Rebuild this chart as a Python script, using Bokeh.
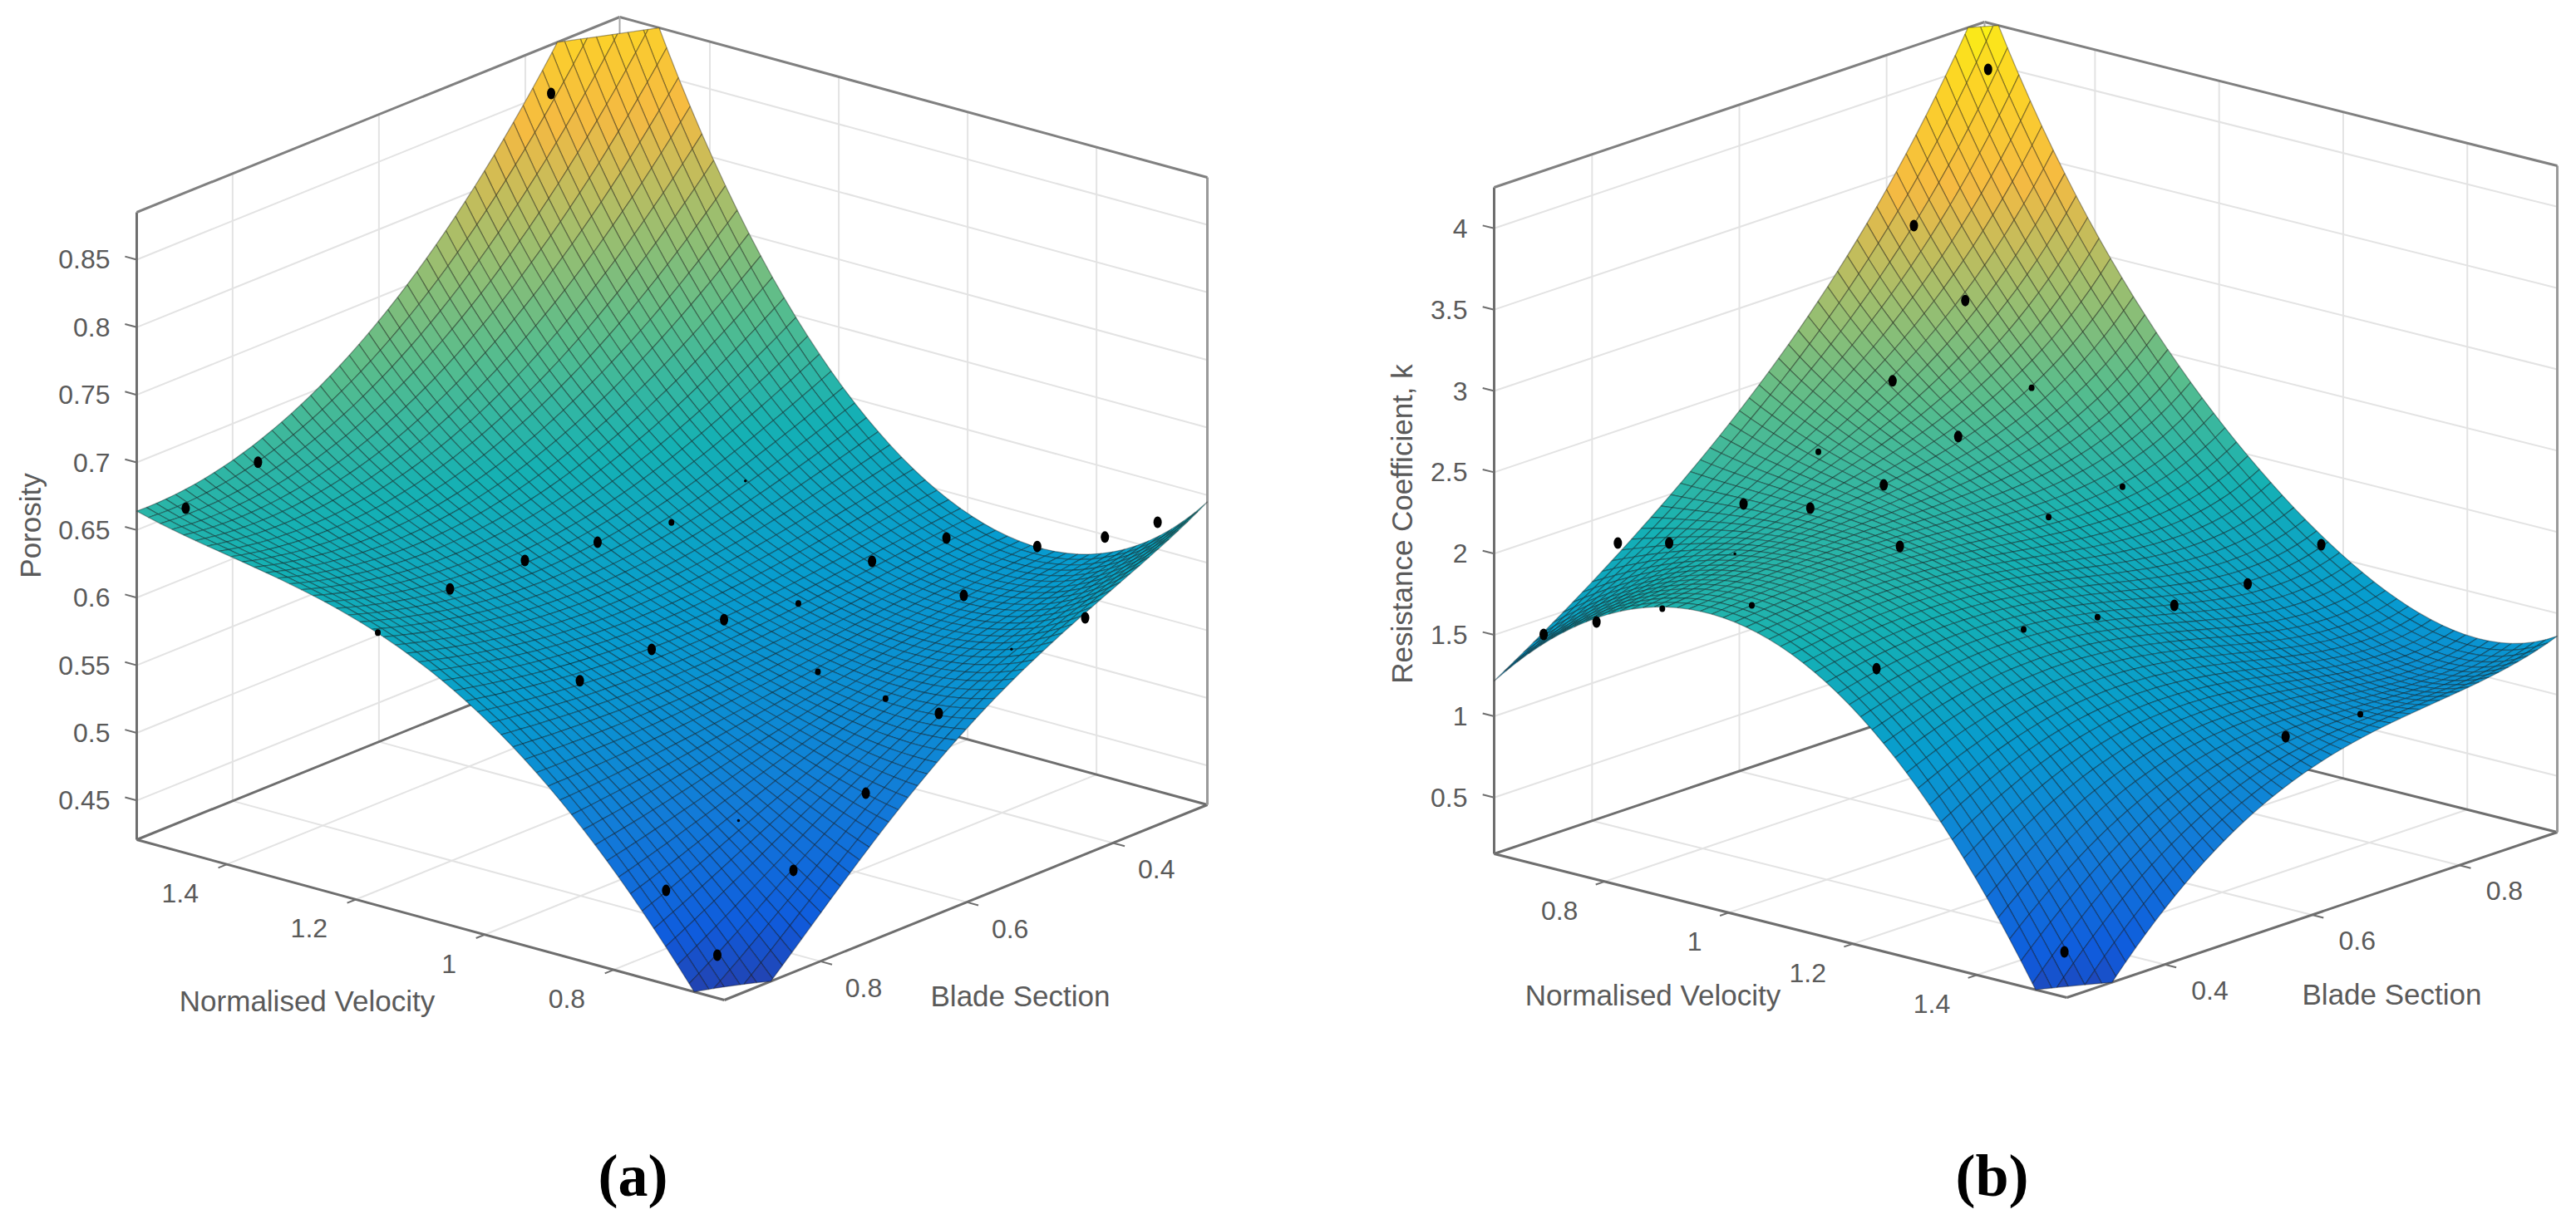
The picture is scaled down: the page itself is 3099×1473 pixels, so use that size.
import numpy as np
from bokeh.core.properties import value
from bokeh.embed import file_html
from bokeh.layouts import row
from bokeh.models import ColumnDataSource, Range1d
from bokeh.plotting import figure
from bokeh.resources import INLINE

# ---------- chart (a): porosity ----------
a_velocity_nodes = [0.628, 0.856, 1.084, 1.312, 1.540]
a_blade_nodes = [0.931, 0.766, 0.601, 0.436, 0.271]
a_height_nodes = [
    [0.390, 0.474, 0.549, 0.600, 0.645],
    [0.523, 0.536, 0.552, 0.567, 0.578],
    [0.605, 0.587, 0.583, 0.593, 0.610],
    [0.642, 0.625, 0.634, 0.670, 0.730],
    [0.664, 0.679, 0.732, 0.825, 0.960],
]
a_z_limits = (0.421, 0.885)
a_z_ticks = [0.45, 0.5, 0.55, 0.6, 0.65, 0.7, 0.75, 0.8, 0.85]
a_z_labels = ["0.45", "0.5", "0.55", "0.6", "0.65", "0.7", "0.75", "0.8", "0.85"]
a_velocity_ticks = [0.8, 1.0, 1.2, 1.4]
a_velocity_labels = ["0.8", "1", "1.2", "1.4"]
a_blade_ticks = [0.4, 0.6, 0.8]
a_blade_labels = ["0.4", "0.6", "0.8"]

a_full_v = [1.526, 1.521, 1.514, 1.234, 1.212, 1.231, 1.026, 1.027, 1.017, 1.003, 0.983, 0.892, 0.787, 0.628, 0.872, 0.628, 0.687, 0.68, 0.681, 0.756, 0.681]
a_full_b = [0.377, 0.782, 0.887, 0.67, 0.59, 0.775, 0.581, 0.679, 0.786, 0.399, 0.315, 0.271, 0.271, 0.339, 0.389, 0.438, 0.586, 0.692, 0.79, 0.898, 0.894]
a_full_z = [0.8535, 0.67, 0.6599, 0.6102, 0.609, 0.6125, 0.574, 0.5733, 0.5748, 0.5803, 0.5817, 0.5777, 0.5983, 0.6448, 0.5699, 0.5958, 0.5499, 0.5149, 0.4792, 0.4782, 0.4392]
a_part_v = [1.167, 1.186, 0.997, 0.877, 0.772]
a_part_b = [0.93, 0.512, 0.505, 0.584, 0.584]
a_part_z = [0.6224, 0.61, 0.5731, 0.5554, 0.5493]
a_sliver_v = [1.178, 0.764, 0.681]
a_sliver_b = [0.418, 0.792, 0.492]
a_sliver_z = [0.6212, 0.5056, 0.5775]

# ---------- chart (b): resistance coefficient ----------
b_velocity_nodes = [1.545, 1.314, 1.084, 0.853, 0.622]
b_blade_nodes = [0.267, 0.433, 0.600, 0.767, 0.933]
b_height_nodes = [
    [-0.200, 0.630, 1.060, 1.205, 1.360],
    [1.170, 1.448, 1.457, 1.297, 1.300],
    [1.870, 1.929, 1.848, 1.727, 1.860],
    [1.885, 1.996, 2.097, 2.285, 2.840],
    [1.217, 1.733, 2.370, 3.220, 4.450],
]
b_z_limits = (0.154, 4.252)
b_z_ticks = [0.5, 1.0, 1.5, 2.0, 2.5, 3.0, 3.5, 4.0]
b_z_labels = ["0.5", "1", "1.5", "2", "2.5", "3", "3.5", "4"]
b_velocity_ticks = [0.8, 1.0, 1.2, 1.4]
b_velocity_labels = ["0.8", "1", "1.2", "1.4"]
b_blade_ticks = [0.4, 0.6, 0.8]
b_blade_labels = ["0.4", "0.6", "0.8"]

b_full_v = [0.655, 0.66, 0.738, 0.736, 0.837, 0.844, 0.732, 0.817, 0.622, 0.694, 0.978, 0.627, 0.787, 1.173, 1.173, 1.179, 1.196, 1.481, 1.496]
b_full_b = [0.91, 0.805, 0.809, 0.712, 0.716, 0.609, 0.513, 0.532, 0.435, 0.444, 0.518, 0.33, 0.267, 0.322, 0.926, 0.821, 0.707, 0.618, 0.305]
b_full_z = [4.0271, 3.2316, 2.8398, 2.492, 2.2403, 2.1127, 2.0347, 2.0621, 1.8083, 1.8639, 2.002, 1.4119, 1.7374, 1.7364, 1.5762, 1.5016, 1.5597, 1.1611, 0.3301]
b_part_v = [0.741, 0.893, 0.991, 0.997, 1.2, 0.845, 0.995, 1.204, 1.491]
b_part_b = [0.607, 0.267, 0.306, 0.704, 0.499, 0.809, 0.806, 0.596, 0.711]
b_part_z = [2.2211, 1.9205, 1.9758, 1.9165, 1.7327, 2.4059, 1.9457, 1.6646, 1.1671]
b_sliver_v = [0.832]
b_sliver_b = [0.417]
b_sliver_z = [1.9707]

# ---------- styling ----------
PARULA = np.array([[53, 42, 135], [15, 92, 221], [18, 125, 216], [7, 156, 207], [21, 177, 180],
                   [89, 189, 140], [165, 190, 107], [245, 186, 66], [252, 212, 38], [249, 251, 14]], float)
CELLS = 50
TEXT = "#5a5a5a"
BOX = "#6e6e6e"
GRID = "#e3e3e3"
FONT = value("Liberation Sans")


def lagrange(nodes, x):
    n = np.array(nodes, float)
    out = []
    for i in range(len(n)):
        t = np.ones_like(x, dtype=float)
        for j in range(len(n)):
            if i != j:
                t = t * (x - n[j]) / (n[i] - n[j])
        out.append(t)
    return np.array(out)


def parula(t):
    t = np.clip(t, 0, 1) * (len(PARULA) - 1)
    i = min(int(t), len(PARULA) - 2)
    c = PARULA[i] + (PARULA[i + 1] - PARULA[i]) * (t - i)
    return "#%02x%02x%02x" % tuple(int(round(x)) for x in c)


def clip_z(poly, lo, hi):
    """Clip a polygon of (v, b, z) corners to the z limits of the box."""
    for limit, sign in ((lo, 1), (hi, -1)):
        kept = []
        for i, p in enumerate(poly):
            q = poly[(i + 1) % len(poly)]
            dp, dq = sign * (p[2] - limit), sign * (q[2] - limit)
            if dp >= 0:
                kept.append(p)
            if dp * dq < 0:
                f = dp / (dp - dq)
                kept.append(tuple(p[k] + (q[k] - p[k]) * f for k in range(3)))
        poly = kept
        if not poly:
            return poly
    return poly


def panel(vn, bn, zn, zlim, F, L, R, zh, x_window, zt, zl, vt, vl, bt, bl,
          full, part, sliver, z_title, v_title_at, b_title_at, z_title_at, caption, caption_at,
          v_off, b_off):
    F, L, R = np.array(F, float), np.array(L, float), np.array(R, float)
    zn = np.array(zn)
    v0, v1, b0, b1 = vn[0], vn[-1], bn[0], bn[-1]

    def proj(v, b, z):
        u = (np.asarray(v, float) - v0) / (v1 - v0)
        w = (np.asarray(b, float) - b0) / (b1 - b0)
        t = (np.asarray(z, float) - zlim[0]) / (zlim[1] - zlim[0])
        return (F[0] + u * (L[0] - F[0]) + w * (R[0] - F[0]),
                F[1] + u * (L[1] - F[1]) + w * (R[1] - F[1]) - t * zh)

    p = figure(width=x_window[1] - x_window[0], height=1465, output_backend="svg", toolbar_location=None,
               x_range=Range1d(*x_window), y_range=Range1d(1465, 0), x_axis_type=None, y_axis_type=None,
               min_border=0, outline_line_color=None, background_fill_color="white", border_fill_color="white")
    p.grid.visible = False

    def seg(a, b_, color, width):
        x, y = proj([a[0], b_[0]], [a[1], b_[1]], [a[2], b_[2]])
        p.line(x, y, line_color=color, line_width=width)

    # grid on the floor and the two back walls
    for v in vt:
        seg((v, b0, zlim[0]), (v, b1, zlim[0]), GRID, 2)
        seg((v, b1, zlim[0]), (v, b1, zlim[1]), GRID, 2)
    for b in bt:
        seg((v0, b, zlim[0]), (v1, b, zlim[0]), GRID, 2)
        seg((v1, b, zlim[0]), (v1, b, zlim[1]), GRID, 2)
    for z in zt:
        seg((v1, b0, z), (v1, b1, z), GRID, 2)
        seg((v1, b1, z), (v0, b1, z), GRID, 2)

    # box
    lo, hi = zlim
    for a, b_, c, w in [
        ((v1, b0, lo), (v1, b1, lo), BOX, 3), ((v1, b1, lo), (v0, b1, lo), BOX, 3),
        ((v1, b0, lo), (v0, b0, lo), BOX, 3), ((v0, b0, lo), (v0, b1, lo), BOX, 3),
        ((v1, b0, lo), (v1, b0, hi), BOX, 3), ((v0, b1, lo), (v0, b1, hi), "#9a9a9a", 3),
        ((v1, b0, hi), (v1, b1, hi), "#808080", 3), ((v1, b1, hi), (v0, b1, hi), "#808080", 3),
        ((v1, b1, lo), (v1, b1, hi), "#a8a8a8", 2),
    ]:
        seg(a, b_, c, w)

    # ticks point out of the box along the other floor direction
    dv, db = (v1 - v0) * 0.02, (b1 - b0) * 0.018
    for z in zt:
        seg((v1, b0, z), (v1 + dv, b0, z), BOX, 2)
    for v in vt:
        seg((v, b0, lo), (v, b0 - db, lo), BOX, 2)
    for b in bt:
        seg((v0, b, lo), (v0 - dv, b, lo), BOX, 2)

    # surface, painted from the back corner to the front corner
    vs = np.linspace(v0, v1, CELLS + 1)
    bs = np.linspace(b0, b1, CELLS + 1)
    Z = (lagrange(vn, vs)[:, None, :, None] * lagrange(bn, bs)[None, :, None, :] * zn[:, :, None, None]).sum((0, 1))
    zmin, zmax = Z.min(), Z.max()
    xs, ys, colors = [], [], []
    for i in range(CELLS - 1, -1, -1):
        for j in range(CELLS - 1, -1, -1):
            quad = [(vs[i], bs[j], Z[i, j]), (vs[i + 1], bs[j], Z[i + 1, j]),
                    (vs[i + 1], bs[j + 1], Z[i + 1, j + 1]), (vs[i], bs[j + 1], Z[i, j + 1])]
            poly = clip_z(quad, lo, hi)
            if len(poly) < 3:
                continue
            arr = np.array(poly)
            x, y = proj(arr[:, 0], arr[:, 1], arr[:, 2])
            xs.append(x.tolist())
            ys.append(y.tolist())
            colors.append(parula((np.mean([q[2] for q in quad]) - zmin) / (zmax - zmin)))
    p.patches("xs", "ys", fill_color="color", line_color="black", line_alpha=0.34, line_width=1.3,
              source=ColumnDataSource(dict(xs=xs, ys=ys, color=colors)))

    # measured points, in three visible sizes as they poke through the surface
    for (dv_, db_, dz_), w, h in [(full, 10, 14), (part, 7, 8), (sliver, 3.5, 3.5)]:
        x, y = proj(dv_, db_, dz_)
        p.ellipse(x, y, width=w, height=h, fill_color="black", line_color=None)

    # tick labels
    x, y = proj([v1] * len(zt), [b0] * len(zt), zt)
    p.text(x - 32, y, text=zl, text_font=FONT, text_font_size="32px", text_color=TEXT,
           text_align="right", text_baseline="middle")
    x, y = proj(vt, [b0] * len(vt), [lo] * len(vt))
    p.text(x + v_off[0], y + v_off[1], text=vl, text_font=FONT, text_font_size="32px", text_color=TEXT,
           text_align="right", text_baseline="middle")
    x, y = proj([v0] * len(bt), bt, [lo] * len(bt))
    p.text(x + b_off[0], y + b_off[1], text=bl, text_font=FONT, text_font_size="32px", text_color=TEXT,
           text_align="left", text_baseline="middle")

    # axis titles and panel caption
    for label, at, angle in [("Normalised Velocity", v_title_at, 0), ("Blade Section", b_title_at, 0),
                             (z_title, z_title_at, np.pi / 2)]:
        p.text([at[0]], [at[1]], text=[label], angle=angle, text_font=FONT, text_font_size="35px",
               text_color=TEXT, text_align="center", text_baseline="middle")
    p.text([caption_at[0]], [caption_at[1]], text=[caption], text_font=value("Liberation Serif"),
           text_font_style="bold", text_font_size="72px", text_color="black",
           text_align="center", text_baseline="middle")
    return p


fig_a = panel(a_velocity_nodes, a_blade_nodes, a_height_nodes, a_z_limits, (871, 1203), (164, 1010), (1452, 968), 755,
              (0, 1548), a_z_ticks, a_z_labels, a_velocity_ticks, a_velocity_labels, a_blade_ticks, a_blade_labels,
              (a_full_v, a_full_b, a_full_z), (a_part_v, a_part_b, a_part_z), (a_sliver_v, a_sliver_b, a_sliver_z),
              "Porosity", (369, 1204), (1227, 1198), (36, 632), "(a)", (761, 1414), (-34, 35), (30, 32))
fig_b = panel(b_velocity_nodes, b_blade_nodes, b_height_nodes, b_z_limits, (2486, 1200), (1797, 1027), (3076, 1001), 802,
              (1548, 3091), b_z_ticks, b_z_labels, b_velocity_ticks, b_velocity_labels, b_blade_ticks, b_blade_labels,
              (b_full_v, b_full_b, b_full_z), (b_part_v, b_part_b, b_part_z), (b_sliver_v, b_sliver_b, b_sliver_z),
              "Resistance Coefficient, k", (1988, 1197), (2877, 1196), (1686, 630), "(b)", (2396, 1414), (-32, 35), (32, 31))

layout = row(fig_a, fig_b, spacing=0)
open("out.html", "w").write(file_html(layout, INLINE))
